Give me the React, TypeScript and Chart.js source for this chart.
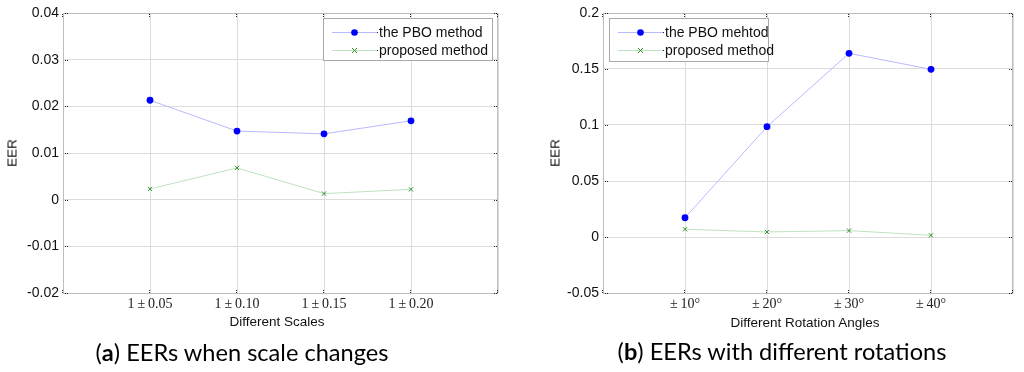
import React, { useEffect, useRef } from 'react';
import { Chart, registerables } from 'chart.js';

Chart.register(...registerables);

// ---- Data ----
const scaleCategories = ['1\u2009±\u20090.05', '1\u2009±\u20090.10', '1\u2009±\u20090.15', '1\u2009±\u20090.20'];
const scalePBO = [0.0213, 0.0147, 0.0141, 0.0169];
const scaleProposed = [0.0023, 0.0068, 0.0013, 0.0022];
const scaleYTicks = [-0.02, -0.01, 0, 0.01, 0.02, 0.03, 0.04];
const scaleLegend = ['the PBO method', 'proposed method'];

const rotCategories = ['±\u200910°', '±\u200920°', '±\u200930°', '±\u200940°'];
const rotPBO = [0.0172, 0.0985, 0.164, 0.1497];
const rotProposed = [0.0069, 0.0045, 0.0057, 0.0015];
const rotYTicks = [-0.05, 0, 0.05, 0.1, 0.15, 0.2];
const rotLegend = ['the PBO mehtod', 'proposed method'];

const SANS = '"Liberation Sans", Arial, sans-serif';
const SERIF = '"Liberation Serif", "Times New Roman", serif';

const PBO_LINE = '#b9b9ff';
const PBO_POINT = '#0000ff';
const PROP_LINE = '#bfe2bf';
const PROP_POINT = '#2f8f2f';

type PanelProps = {
  categories: string[];
  pbo: number[];
  proposed: number[];
  yTicks: number[];
  legend: string[];
  yAxisWidth: number;
  step: number;
  legendBox: { x: number; y: number; w: number; h: number };
};

const CANVAS_W = 512;
const CANVAS_H = 340;

function Panel(props: PanelProps) {
  const ref = useRef<HTMLCanvasElement | null>(null);
  useEffect(() => {
    if (!ref.current) return;
    const { categories, pbo, proposed, yTicks, legend, yAxisWidth, legendBox, step } = props;

    const decor = {
      id: 'decor',
      afterDraw(chart: any) {
        const ctx = chart.ctx;
        const a = chart.chartArea;
        const xs = chart.scales.x;
        const ys = chart.scales.y;
        ctx.save();
        // frame
        ctx.strokeStyle = '#bdbdbd';
        ctx.lineWidth = 1;
        ctx.strokeRect(Math.round(a.left) + 0.5, Math.round(a.top) + 0.5, Math.round(a.right - a.left) - 1, Math.round(a.bottom - a.top));
        // small inward tick marks
        ctx.fillStyle = '#222';
        for (let i = 0; i <= categories.length + 1; i++) {
          const px = Math.round(xs.getPixelForValue(i));
          ctx.fillRect(px - 1, a.top + 1, 1, 1);
          ctx.fillRect(px - 1, a.top + 3, 1, 1);
          ctx.fillRect(px - 1, a.bottom - 3, 1, 1);
          ctx.fillRect(px - 1, a.bottom - 1, 1, 1);
        }
        for (const v of yTicks) {
          const py = Math.round(ys.getPixelForValue(v));
          ctx.fillRect(a.left + 2, py, 1, 1);
          ctx.fillRect(a.left + 4, py, 1, 1);
          ctx.fillRect(a.right - 4, py, 1, 1);
          ctx.fillRect(a.right - 2, py, 1, 1);
        }
        // legend
        const b = legendBox;
        ctx.fillStyle = '#ffffff';
        ctx.fillRect(b.x, b.y, b.w, b.h);
        ctx.strokeStyle = '#a8a8a8';
        ctx.strokeRect(b.x + 0.5, b.y + 0.5, b.w, b.h);
        const rows = [b.y + 14, b.y + 32];
        const lx0 = b.x + 9;
        const lx1 = b.x + 54;
        const lm = (lx0 + lx1) / 2;
        const styles = [
          { line: PBO_LINE, point: PBO_POINT, kind: 'circle' },
          { line: PROP_LINE, point: PROP_POINT, kind: 'x' },
        ];
        ctx.font = `14px ${SANS}`;
        ctx.textBaseline = 'middle';
        ctx.textAlign = 'left';
        legend.forEach((label, i) => {
          const y = rows[i];
          const s = styles[i];
          ctx.strokeStyle = s.line;
          ctx.lineWidth = 1;
          ctx.beginPath();
          ctx.moveTo(lx0, y + 0.5);
          ctx.lineTo(lx1, y + 0.5);
          ctx.stroke();
          if (s.kind === 'circle') {
            ctx.fillStyle = s.point;
            ctx.beginPath();
            ctx.arc(lm, y + 0.5, 3.3, 0, Math.PI * 2);
            ctx.fill();
          } else {
            ctx.strokeStyle = s.point;
            ctx.beginPath();
            ctx.moveTo(lm - 2.5, y - 2);
            ctx.lineTo(lm + 2.5, y + 3);
            ctx.moveTo(lm + 2.5, y - 2);
            ctx.lineTo(lm - 2.5, y + 3);
            ctx.stroke();
          }
          ctx.fillStyle = '#222';
          ctx.fillRect(lx1, y, 1, 1);
          ctx.fillStyle = '#111';
          ctx.fillText(label, lx1 + 2, y + 1);
        });
        ctx.restore();
      },
    };

    const chart = new Chart(ref.current, {
      type: 'line',
      data: {
        datasets: [
          {
            label: legend[0],
            data: pbo.map((v, i) => ({ x: i + 1, y: v })),
            borderColor: PBO_LINE,
            borderWidth: 1,
            pointStyle: 'circle',
            pointRadius: 3.4,
            pointBackgroundColor: PBO_POINT,
            pointBorderColor: PBO_POINT,
            pointBorderWidth: 0,
            tension: 0,
          },
          {
            label: legend[1],
            data: proposed.map((v, i) => ({ x: i + 1, y: v })),
            borderColor: PROP_LINE,
            borderWidth: 1,
            pointStyle: 'crossRot',
            pointRadius: 3,
            pointBackgroundColor: PROP_POINT,
            pointBorderColor: PROP_POINT,
            pointBorderWidth: 1,
            tension: 0,
          },
        ],
      },
      options: {
        responsive: false,
        animation: false,
        layout: { padding: { left: 0, right: CANVAS_W - yAxisWidth - (categories.length + 1) * step, top: 13, bottom: 0 } },
        plugins: { legend: { display: false }, tooltip: { enabled: false } },
        scales: {
          x: {
            type: 'linear',
            min: 0,
            max: categories.length + 1,
            afterBuildTicks: (scale: any) => {
              scale.ticks = Array.from({ length: categories.length + 2 }, (_, i) => ({ value: i }));
            },
            afterFit: (scale: any) => {
              scale.height = CANVAS_H - 293;
            },
            grid: { color: '#dcdcdc', lineWidth: 1, drawTicks: false },
            border: { display: false },
            ticks: {
              autoSkip: false,
              maxRotation: 0,
              padding: 3,
              color: '#222',
              font: { family: SERIF, size: 14 },
              callback: (v: any) => categories[Number(v) - 1] ?? '',
            },
          },
          y: {
            type: 'linear',
            min: yTicks[0],
            max: yTicks[yTicks.length - 1],
            afterBuildTicks: (scale: any) => {
              scale.ticks = yTicks.map((v) => ({ value: v }));
            },
            afterFit: (scale: any) => {
              scale.width = yAxisWidth;
            },
            grid: { color: '#dcdcdc', lineWidth: 1, drawTicks: false },
            border: { display: false },
            ticks: {
              padding: 4,
              color: '#111',
              font: { family: SANS, size: 14 },
              callback: (v: any) => String(Number(Number(v).toFixed(3))),
            },
          },
        },
      },
      plugins: [decor],
    } as any);
    return () => chart.destroy();
  }, []);
  return <canvas ref={ref} width={CANVAS_W} height={CANVAS_H} style={{ width: CANVAS_W, height: CANVAS_H, display: 'block' }} />;
}

const abs = (left: number, top: number, extra: React.CSSProperties = {}): React.CSSProperties => ({
  position: 'absolute',
  left,
  top,
  transform: 'translate(-50%, -50%)',
  whiteSpace: 'nowrap',
  ...extra,
});

export default function App() {
  const axisFont: React.CSSProperties = { fontFamily: SANS, fontSize: 13.5, color: '#111' };
  const capFont: React.CSSProperties = { fontFamily: 'Lato, "Open Sans", sans-serif', fontSize: 23.6, color: '#000' };
  return (
    <div style={{ position: 'fixed', left: 0, top: 0, width: 1024, height: 372, background: '#fff', overflow: 'hidden' }}>
      <div style={{ position: 'absolute', left: 0, top: 0 }}>
        <Panel
          categories={scaleCategories}
          pbo={scalePBO}
          proposed={scaleProposed}
          yTicks={scaleYTicks}
          legend={scaleLegend}
          yAxisWidth={63}
          step={87}
          legendBox={{ x: 323, y: 18, w: 169, h: 42 }}
        />
      </div>
      <div style={{ position: 'absolute', left: 512, top: 0 }}>
        <Panel
          categories={rotCategories}
          pbo={rotPBO}
          proposed={rotProposed}
          yTicks={rotYTicks}
          legend={rotLegend}
          yAxisWidth={91}
          step={82}
          legendBox={{ x: 97, y: 18, w: 159, h: 43 }}
        />
      </div>
      <div style={abs(12, 153, { ...axisFont, transform: 'translate(-50%, -50%) rotate(-90deg)' })}>EER</div>
      <div style={abs(555, 153, { ...axisFont, transform: 'translate(-50%, -50%) rotate(-90deg)' })}>EER</div>
      <div style={abs(277, 321, axisFont)}>Different Scales</div>
      <div style={abs(805, 322, axisFont)}>Different Rotation Angles</div>
      <div style={abs(242, 352, capFont)}>
        (<b>a</b>) EERs when scale changes
      </div>
      <div style={abs(782, 351, capFont)}>
        (<b>b</b>) EERs with different rotations
      </div>
    </div>
  );
}
